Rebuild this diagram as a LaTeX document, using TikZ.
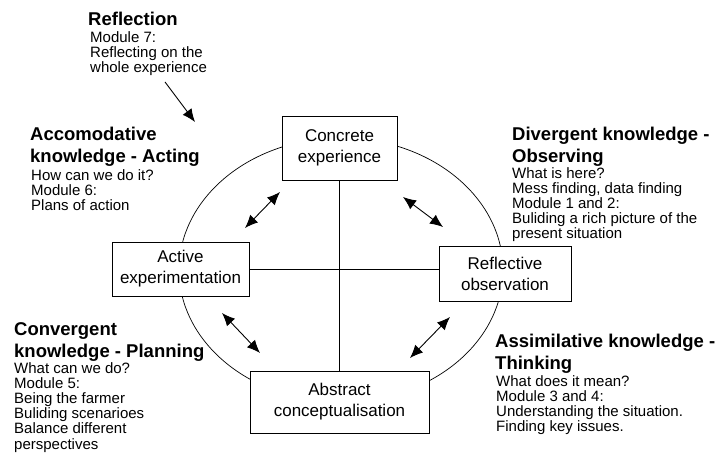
\documentclass[tikz,border=0pt]{standalone}
\usepackage{fontspec}
\setmainfont{Liberation Sans}
\usetikzlibrary{arrows.meta, calc}

\begin{document}
\begin{tikzpicture}[
    x = 1pt, y = -1pt,
    stage/.style = {
      draw,
      fill = white,
      line width = 0.9pt,
      align = center,
      inner sep = 0pt,
      font = \fontsize{17}{21}\selectfont
    },
    head/.style = {
      anchor = north west,
      align = left,
      inner sep = 0pt,
      font = \fontsize{18.5}{22}\selectfont\bfseries
    },
    body/.style = {
      anchor = north west,
      align = left,
      inner sep = 0pt,
      font = \fontsize{15}{15.2}\selectfont
    },
    link/.style = {
      line width = 0.9pt,
      {Latex[length=13pt,width=11pt]}-{Latex[length=13pt,width=11pt]}
    }
  ]
  \useasboundingbox (0,0) rectangle (718,454);

  % the learning cycle
  \draw[line width = 0.7pt] (341,270) ellipse [x radius = 162pt, y radius = 132pt];

  \node[stage, minimum width = 115pt, minimum height = 64pt] (ce) at (339.5,148) {Concrete\\experience};
  \node[stage, minimum width = 137pt, minimum height = 54pt] (ae) at (180.5,269) {Active\\experimentation};
  \node[stage, minimum width = 132pt, minimum height = 55pt] (ro) at (505,273.5) {Reflective\\observation};
  \node[stage, minimum width = 179pt, minimum height = 62pt] (ac) at (339.5,402) {Abstract\\conceptualisation};

  \draw[line width = 0.8pt] (ce.south) to (ac.north);
  \draw[line width = 0.8pt] (ae.east) to (ae.east -| ro.west);

  % double arrows between the stages
  \coordinate (ul1) at (245,228);
  \coordinate (ul2) at (280,192);
  \coordinate (ur1) at (403,197);
  \coordinate (ur2) at (443,227);
  \coordinate (ll1) at (222,313);
  \coordinate (ll2) at (260,353);
  \coordinate (lr1) at (450,317);
  \coordinate (lr2) at (410,358);
  \draw[link] (ul1) to (ul2);
  \draw[link] (ur1) to (ur2);
  \draw[link] (ll1) to (ll2);
  \draw[link] (lr1) to (lr2);

  % the four kinds of knowledge and the reflection
  \node[head] (refH) at (88,12) {Reflection};
  \node[body] (refB) at (90,31) {Module 7:\\Reflecting on the\\whole experience};
  \coordinate (refA) at (165,82);
  \coordinate (refT) at (195,122);
  \draw[line width = 0.9pt, -{Latex[length=13pt,width=11pt]}] (refA) to (refT);

  \node[head] (accH) at (30,127) {Accomodative\\knowledge - Acting};
  \node[body] (accB) at (31,169) {How can we do it?\\Module 6:\\Plans of action};

  \node[head] (divH) at (512,127) {Divergent knowledge -\\Observing};
  \node[body] (divB) at (512,167) {What is here?\\Mess finding, data finding\\Module 1 and 2:\\Buliding a rich picture of the\\present situation};

  \node[head] (conH) at (14,322) {Convergent\\knowledge - Planning};
  \node[body] (conB) at (14,362) {What can we do?\\Module 5:\\Being the farmer\\Buliding scenarioes\\Balance different\\perspectives};

  \node[head] (asiH) at (495,334) {Assimilative knowledge -\\Thinking};
  \node[body] (asiB) at (496,375) {What does it mean?\\Module 3 and 4:\\Understanding the situation.\\Finding key issues.};
\end{tikzpicture}
\end{document}
